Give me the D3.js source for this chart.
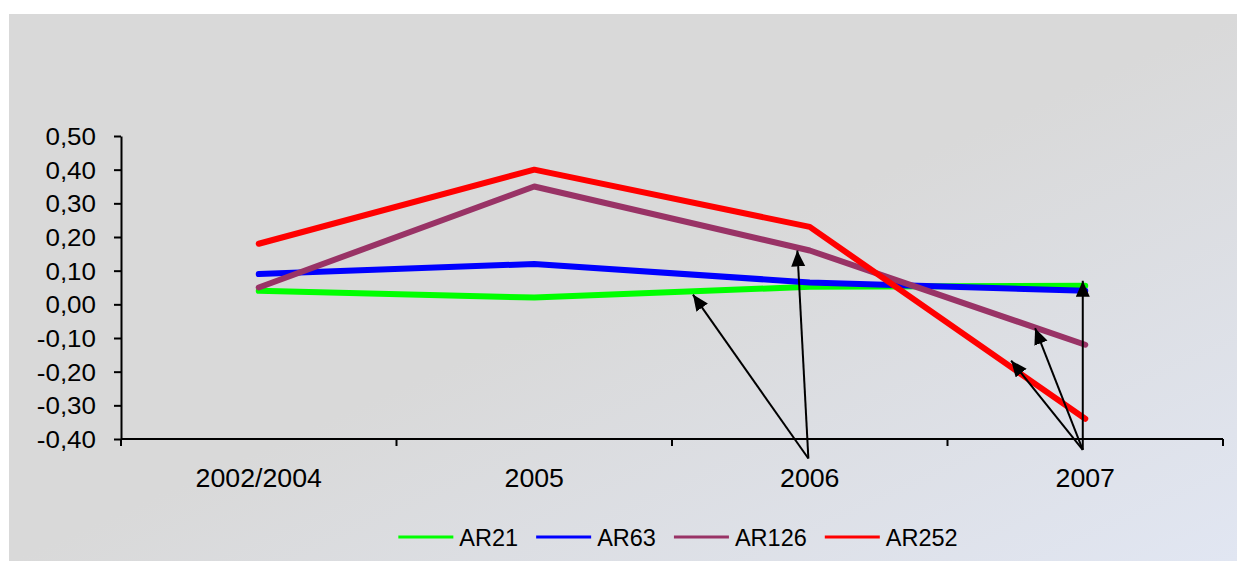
<!DOCTYPE html>
<html>
<head>
<meta charset="utf-8">
<script src="https://cdn.jsdelivr.net/npm/d3@7"></script>
<style>
  html, body { margin: 0; padding: 0; background: #ffffff; }
  svg { display: block; }
  text { font-family: "Liberation Sans", Arial, sans-serif; fill: #000; }
</style>
</head>
<body>
<svg id="chart" width="1237" height="561"></svg>
<script>
// Categories and series
const categories = ["2002/2004", "2005", "2006", "2007"];
const seriesNames = ["AR21", "AR63", "AR126", "AR252"];
const ar21  = [0.04, 0.02, 0.052, 0.055];
const ar63  = [0.09, 0.12, 0.065, 0.04];
const ar126 = [0.05, 0.35, 0.16, -0.12];
const ar252 = [0.18, 0.40, 0.23, -0.34];
const seriesColors = ["#00ff00", "#0000ff", "#993366", "#ff0000"];
const yTicks = [-0.4, -0.3, -0.2, -0.1, 0, 0.1, 0.2, 0.3, 0.4, 0.5];

// Callout arrows, in (category index, value) units
const calloutFrom = [[1.995, -0.458], [1.995, -0.458], [2.991, -0.432], [2.991, -0.432], [2.991, -0.432]];
const calloutTo   = [[1.576, 0.029], [1.955, 0.16], [2.991, 0.07], [2.818, -0.071], [2.731, -0.167]];

const svg = d3.select("#chart");
const W = 1237, H = 561;

// Background panel with soft diagonal gradient
const defs = svg.append("defs");
const grad = defs.append("linearGradient")
  .attr("id", "bg").attr("x1", 0).attr("y1", 0).attr("x2", 1).attr("y2", 1);
grad.append("stop").attr("offset", 0).attr("stop-color", "#d9d9d9");
grad.append("stop").attr("offset", 0.5).attr("stop-color", "#d9d9d9");
grad.append("stop").attr("offset", 1).attr("stop-color", "#e1e6f2");
svg.append("rect").attr("x", 9).attr("y", 14).attr("width", W - 9).attr("height", H - 14)
  .attr("fill", "url(#bg)");

const plotLeft = 121, plotRight = 1223, plotTop = 136, plotBottom = 439;

const x = d3.scaleBand().domain(categories).range([plotLeft, plotRight]).padding(0);
const xi = d3.scaleLinear().domain([-0.5, categories.length - 0.5]).range([plotLeft, plotRight]);
const y = d3.scaleLinear().domain([-0.4, 0.5]).range([plotBottom, plotTop]);

const fmt = v => d3.format(".2f")(v).replace(".", ",").replace("−", "-");

// Y axis
const yAxis = svg.append("g").attr("transform", `translate(${plotLeft},0)`)
  .call(d3.axisLeft(y).tickValues(yTicks).tickSize(7).tickSizeOuter(0).tickFormat(fmt));
yAxis.select(".domain").attr("stroke", "#000").attr("stroke-width", 2);
yAxis.selectAll(".tick line").attr("stroke", "#000").attr("stroke-width", 2);
yAxis.selectAll(".tick text").remove();
yAxis.selectAll(".tick").append("text")
  .attr("text-anchor", "end")
  .attr("font-size", 23)
  .attr("transform", "translate(-25,8.5) scale(1.13,1)")
  .text(d => fmt(d));

// X axis with ticks at category boundaries
const xAxisG = svg.append("g").attr("transform", `translate(0,${plotBottom})`);
xAxisG.append("line").attr("x1", plotLeft).attr("x2", plotRight).attr("y1", 0).attr("y2", 0)
  .attr("stroke", "#000").attr("stroke-width", 2);
const bounds = categories.map(c => x(c)).concat([plotRight]);
xAxisG.selectAll("line.tk").data(bounds).join("line").attr("class", "tk")
  .attr("x1", d => d).attr("x2", d => d).attr("y1", 0).attr("y2", 7)
  .attr("stroke", "#000").attr("stroke-width", 2);
xAxisG.selectAll("text").data(categories).join("text")
  .attr("text-anchor", "middle")
  .attr("font-size", 25)
  .attr("transform", d => `translate(${x(d) + x.bandwidth() / 2},48) scale(1.07,1)`)
  .text(d => d);

// Series lines
const seriesValues = [ar21, ar63, ar126, ar252];
const line = d3.line()
  .x((d, j) => x(categories[j]) + x.bandwidth() / 2)
  .y(d => y(d));
seriesValues.forEach((vals, i) => {
  svg.append("path").datum(vals)
    .attr("d", line)
    .attr("fill", "none")
    .attr("stroke", seriesColors[i])
    .attr("stroke-width", 6)
    .attr("stroke-linecap", "round")
    .attr("stroke-linejoin", "round");
});

// Callout arrows
defs.append("marker").attr("id", "arrowHead")
  .attr("markerUnits", "userSpaceOnUse")
  .attr("markerWidth", 18).attr("markerHeight", 15)
  .attr("refX", 16).attr("refY", 7)
  .attr("orient", "auto")
  .append("path").attr("d", "M0,0 L16,7 L0,14 Z").attr("fill", "#000");
calloutFrom.forEach((f, i) => {
  const t = calloutTo[i];
  svg.append("line")
    .attr("x1", xi(f[0])).attr("y1", y(f[1]))
    .attr("x2", xi(t[0])).attr("y2", y(t[1]))
    .attr("stroke", "#000").attr("stroke-width", 2)
    .attr("marker-end", "url(#arrowHead)");
});

// Legend
const legend = svg.append("g");
let cx = 0;
seriesNames.forEach((name, i) => {
  const g = legend.append("g");
  g.append("line").attr("x1", 0).attr("x2", 55).attr("y1", 0).attr("y2", 0)
    .attr("stroke", seriesColors[i]).attr("stroke-width", 3);
  const t = g.append("text").attr("x", 61).attr("y", 8.5).attr("font-size", 23.5).text(name);
  const w = 61 + t.node().getComputedTextLength();
  g.attr("transform", `translate(${cx},0)`);
  cx += w + 18;
});
const totalW = cx - 18;
legend.attr("transform", `translate(${678 - totalW / 2},537)`);
</script>
</body>
</html>
